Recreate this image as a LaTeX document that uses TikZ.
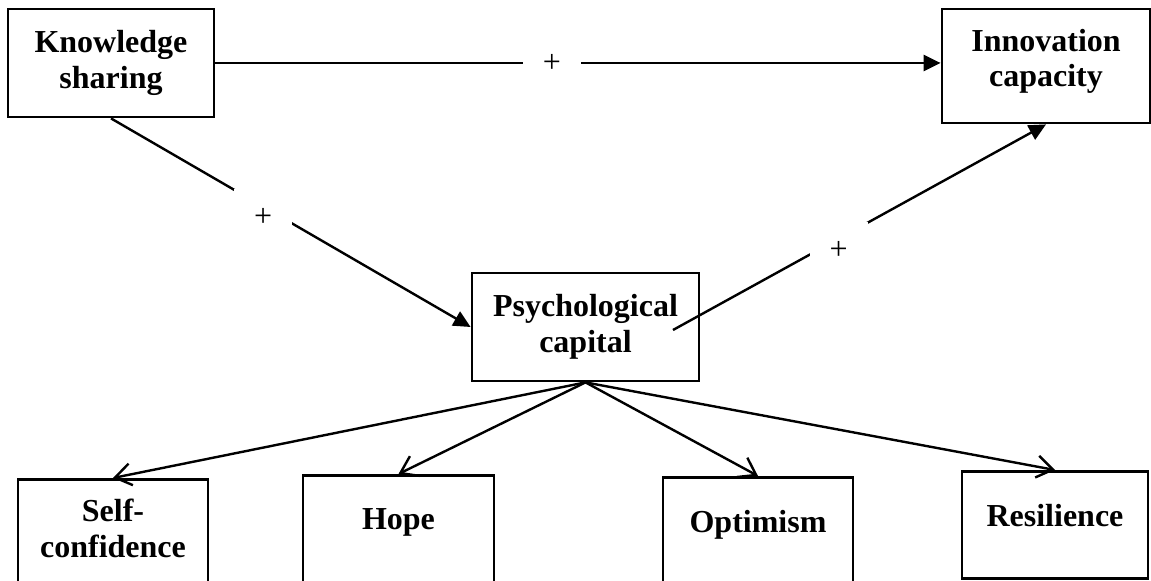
\documentclass[tikz,border=0pt]{standalone}
\usepackage{fontspec}
\setmainfont{Liberation Serif}
\usetikzlibrary{arrows.meta}
\usetikzlibrary{positioning}

\tikzset{
  box/.style={draw, line width=1.4pt, align=center, font=\bfseries\fontsize{16}{17.8}\selectfont},
  leaftext/.style={align=center, inner sep=0pt, font=\bfseries\fontsize{16}{17.8}\selectfont},
  link/.style={line width=1.2pt, -{Triangle[length=8.5pt,width=8pt]}},
  branch/.style={line width=1.2pt, -{Straight Barb[length=8pt,width=11pt,line width=1.2pt]}},
  plus/.style={fill=white, minimum size=29pt, inner sep=0pt, font=\fontsize{16}{17.5}\selectfont},
}

\begin{document}
\begin{tikzpicture}[x=0.5pt,y=-0.5pt]
\useasboundingbox (0,0) rectangle (1151,581);
% top row
\node[box, minimum width=103pt, minimum height=54pt] (know) at (111,63) {Knowledge\\sharing};
\node[box, minimum width=104pt, minimum height=57pt, text depth=8pt] (innov) at (1046,66) {Innovation\\capacity};
\node[box, minimum width=113.5pt, minimum height=54pt] (psych) at (585.5,327) {Psychological\\capital};
% the four dimensions
\node[box, minimum width=95pt, minimum height=62pt, anchor=north] (self) at (113,478) {};
\node[box, minimum width=95.5pt, minimum height=62pt, anchor=north] (hope) at (398.5,474) {};
\node[box, minimum width=95pt, minimum height=62pt, anchor=north] (optim) at (758,476) {};
\node[box, minimum width=93pt, minimum height=53.5pt, anchor=north] (resil) at (1055,470) {};
\node[leaftext, below=10.5pt of self.north] {Self-\\confidence};
\node[leaftext, below=17pt of hope.north] {Hope};
\node[leaftext, below=17pt of optim.north] {Optimism};
\node[leaftext, below=17pt of resil.north] {Resilience};

\coordinate (pc) at (673,330);
\draw[link] (know.east) -- (know.east -| innov.west) node[plus, pos=0.464] {+};
\draw[link] (know.south) -- (psych.west) node[plus, pos=0.423, yshift=-5.5pt] {+};
\draw[link] (pc) -- (innov.south) node[plus, pos=0.444, yshift=-6pt] {+};
\foreach \n in {self,hope,optim,resil} {
  \draw[branch] (psych.south) -- (\n.north);
}
\end{tikzpicture}
\end{document}
